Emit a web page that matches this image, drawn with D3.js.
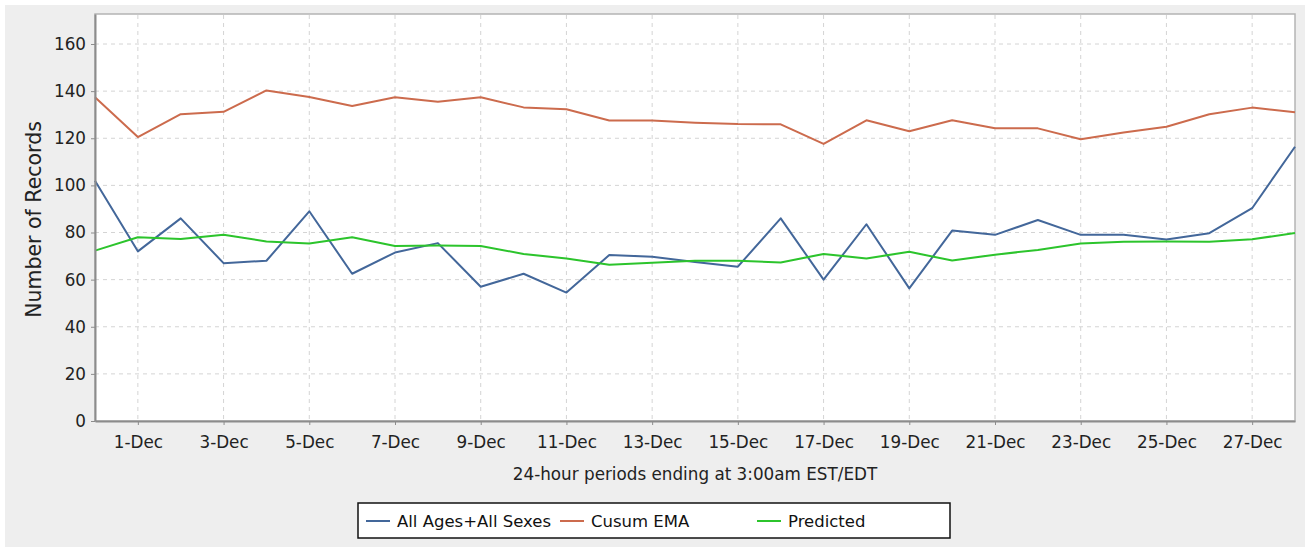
<!DOCTYPE html>
<html>
<head>
<meta charset="utf-8">
<script src="https://cdn.jsdelivr.net/npm/d3@7"></script>
<style>
  body { margin: 0; background: #fff; }
  svg { display: block; font-family: "DejaVu Sans", sans-serif; }
  .tick text { fill: #222; }
</style>
</head>
<body>
<svg id="chart" width="1307" height="547"></svg>
<script>
// data
const days = d3.range(0, 29).map(i => new Date(2020, 10, 30 + i));
const allAges = [102, 72, 86, 67, 68, 89, 62.5, 71.5, 75.5, 57, 62.5, 54.5, 70.5, 69.7, 67.5, 65.5,
  86, 60, 83.5, 56.3, 80.8, 79, 85.3, 79, 79, 77, 79.7, 90.3, 116.4];
const cusumEma = [137.4, 120.5, 130.2, 131.2, 140.3, 137.5, 133.7, 137.4, 135.5, 137.4, 133.1, 132.3,
  127.5, 127.5, 126.6, 126, 125.9, 117.6, 127.6, 123, 127.6, 124.2, 124.2, 119.6, 122.4, 124.9, 130.2, 133, 131];
const predicted = [72.3, 78, 77.2, 79, 76.2, 75.3, 78, 74.3, 74.5, 74.3, 70.9, 69, 66.3, 67.2, 68, 68,
  67.3, 70.9, 69, 71.8, 68.1, 70.6, 72.6, 75.3, 76.1, 76.2, 76.1, 77.1, 79.8];
const yTicks = [0, 20, 40, 60, 80, 100, 120, 140, 160];
const seriesNames = ['All Ages+All Sexes', 'Cusum EMA', 'Predicted'];
const seriesColors = ['#43679a', '#cc6b4d', '#2cc42c'];

const svg = d3.select('#chart');

// background panel
svg.append('rect')
  .attr('x', 5).attr('y', 5)
  .attr('width', 1300).attr('height', 542)
  .attr('fill', '#eeeeee');

const plot = {left: 95, top: 14, right: 1295, bottom: 421};

const x = d3.scaleTime()
  .domain([days[0], days[days.length - 1]])
  .range([plot.left, plot.right]);

const y = d3.scaleLinear()
  .domain([0, 160 * (421 - 14) / (421 - 44)])
  .range([plot.bottom, plot.top]);

// plot area
svg.append('rect')
  .attr('x', plot.left).attr('y', plot.top)
  .attr('width', plot.right - plot.left).attr('height', plot.bottom - plot.top)
  .attr('fill', '#fff')
  .attr('stroke', '#b4b4b4')
  .attr('stroke-width', 1.5);

const xTicks = days.filter(d => d.getMonth() === 11 && d.getDate() % 2 === 1);

// gridlines
svg.append('g')
  .selectAll('line')
  .data(xTicks)
  .join('line')
    .attr('x1', d => x(d)).attr('x2', d => x(d))
    .attr('y1', plot.top + 1).attr('y2', plot.bottom)
    .attr('stroke', '#d4d4d4')
    .attr('stroke-dasharray', '4,4');

svg.append('g')
  .selectAll('line')
  .data(yTicks.slice(1))
  .join('line')
    .attr('x1', plot.left).attr('x2', plot.right)
    .attr('y1', d => y(d)).attr('y2', d => y(d))
    .attr('stroke', '#d4d4d4')
    .attr('stroke-dasharray', '4,4');

// lines
const line = d3.line()
  .x((d, i) => x(days[i]))
  .y(d => y(d));

[allAges, cusumEma, predicted].forEach((s, k) => {
  svg.append('path')
    .datum(s)
    .attr('fill', 'none')
    .attr('stroke', seriesColors[k])
    .attr('stroke-width', 2)
    .attr('stroke-linejoin', 'round')
    .attr('d', line);
});

// axes
const xAxis = svg.append('g')
  .attr('transform', `translate(0, ${plot.bottom})`)
  .call(d3.axisBottom(x).tickValues(xTicks).tickFormat(d3.timeFormat('%-d-%b')).tickSize(4).tickSizeOuter(0).tickPadding(11));

const yAxis = svg.append('g')
  .attr('transform', `translate(${plot.left}, 0)`)
  .call(d3.axisLeft(y).tickValues(yTicks).tickSize(4).tickSizeOuter(0).tickPadding(5));

[xAxis, yAxis].forEach(a => {
  a.select('.domain').attr('stroke', '#8c8c8c').attr('stroke-width', 2);
  a.selectAll('.tick line').attr('stroke', '#8c8c8c');
  a.selectAll('.tick text').style('font-size', '16.8px').attr('font-family', '"DejaVu Sans", sans-serif');
});

// axis titles
svg.append('text')
  .attr('x', (plot.left + plot.right) / 2)
  .attr('y', 480)
  .attr('text-anchor', 'middle')
  .style('font-size', '16.8px')
  .attr('fill', '#222')
  .text('24-hour periods ending at 3:00am EST/EDT');

svg.append('text')
  .attr('transform', `translate(41, ${(plot.top + plot.bottom) / 2 + 2}) rotate(-90)`)
  .attr('text-anchor', 'middle')
  .style('font-size', '20.5px')
  .attr('fill', '#222')
  .text('Number of Records');

// legend
const legend = svg.append('g');
legend.append('rect')
  .attr('x', 358).attr('y', 503)
  .attr('width', 592).attr('height', 35)
  .attr('fill', '#fff')
  .attr('stroke', '#111')
  .attr('stroke-width', 1.5);

const legendX = [366, 560, 757];
const items = legend.selectAll('g.item')
  .data(seriesNames)
  .join('g')
    .attr('class', 'item')
    .attr('transform', (d, i) => `translate(${legendX[i]}, 521)`);

items.append('line')
  .attr('x1', 0).attr('x2', 24)
  .attr('stroke', (d, i) => seriesColors[i])
  .attr('stroke-width', 2);

items.append('text')
  .attr('x', 31)
  .attr('dy', '0.35em')
  .style('font-size', '16.5px')
  .attr('fill', '#111')
  .text(d => d);
</script>
</body>
</html>
